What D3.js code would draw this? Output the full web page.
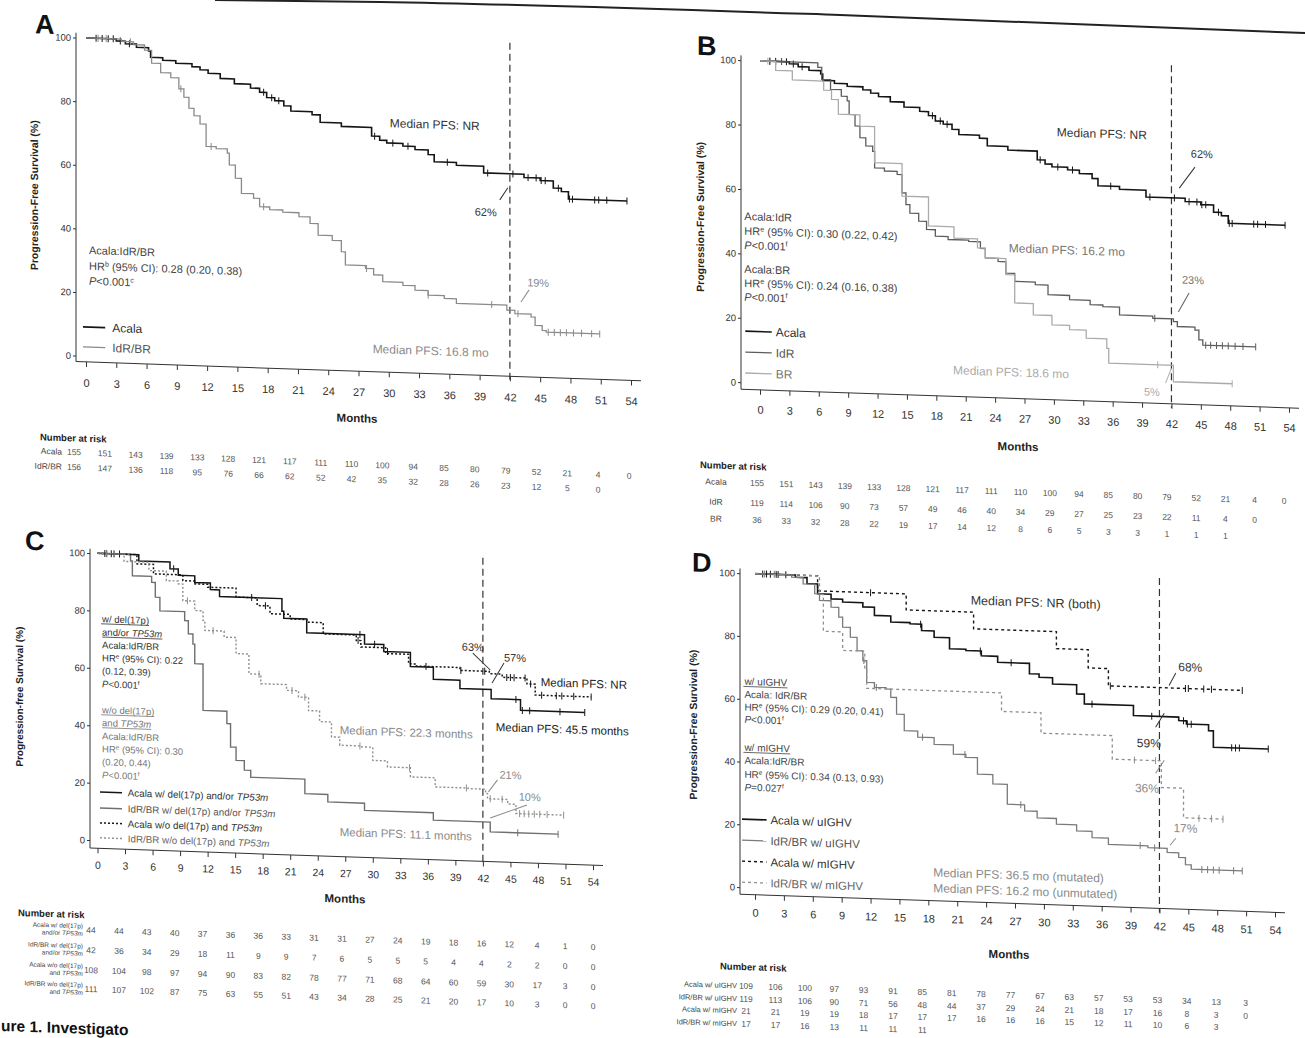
<!DOCTYPE html>
<html><head><meta charset="utf-8">
<style>
html,body{margin:0;padding:0;background:#fff;}
svg{display:block;}
text{font-family:"Liberation Sans",Arial,Helvetica,sans-serif;}
</style></head>
<body>
<svg id="fig" width="1305" height="1038" xmlns="http://www.w3.org/2000/svg"></svg>
<script src="https://cdn.jsdelivr.net/npm/d3@7/dist/d3.min.js"></script>
<script>
// ================= DATA =================
const monthTicks = [0,3,6,9,12,15,18,21,24,27,30,33,36,39,42,45,48,51,54];
const pctTicks = [0,20,40,60,80,100];
const landmarkMonth = 42;

// Kaplan-Meier step points [month, PFS %] (last point = end of follow-up)
const acalaAll = [[0,100],[3,99.4],[3.9,98.6],[5,97.6],[6.2,96.6],[6.4,94.6],[7.6,93.8],[8.9,93],[10.5,92.1],[11.3,91.2],[12.1,90.2],[13.3,88.7],[14.7,87.2],[16.3,86],[17.2,84.8],[17.9,83.2],[18.7,82.3],[19.6,80.8],[20.3,79.2],[22.4,78.3],[23.2,76],[25.3,74.9],[28.3,72.2],[29.1,71],[29.8,70.2],[31.4,69.4],[32.6,68.4],[33.9,67],[34.5,64.8],[36.7,63.9],[39.4,61.8],[43.4,60.8],[45,60],[46.3,57.8],[47.1,56.8],[47.8,54.5],[53.6,54.5]];
const acalaAllCens = [1,1.6,2.2,2.7,3.4,4.3,17.6,18.4,19.1,28.6,30.4,31.9,35.8,39.8,42.3,43.8,44.6,45.1,45.5,46.8,47.9,48.2,50.4,50.8,51.6,53.6];

const idrbrA = [[0,100],[3.5,99.3],[4.7,98.4],[5.8,96.8],[6.5,92.8],[7.4,89.9],[8.4,88.4],[9.2,85],[9.7,82.4],[10.2,79],[10.7,76.7],[11.3,74.2],[11.9,67.2],[12.9,66.6],[14,65.3],[14.2,61.6],[14.8,57.5],[15.4,52.8],[16.6,51.4],[17.2,48.8],[18.2,48],[19.5,47.3],[21.1,46.1],[22.2,44.1],[23,40.5],[24.4,39],[25.3,35.5],[25.7,31.4],[27.7,30.5],[28.5,28.6],[29.4,26.5],[31.4,25.6],[32.6,24.2],[33.9,22.8],[35.5,21.9],[36.7,20.5],[41.7,18.9],[42.5,17.9],[44.1,17],[44.5,14.4],[45.2,12.9],[45.6,12.4],[50.9,12.4]];
const idrbrACens = [1.2,2,4.4,9.4,12.4,17.6,27.8,33.9,40.2,42.8,45.8,46.4,47,47.6,48.3,49.1,50.1,50.9];

const idrB = [[0,100],[5.9,98.6],[6.3,94.9],[7.2,91.9],[8.3,89.9],[8.9,88.5],[9.1,84.3],[9.7,80.8],[10.2,77.2],[10.8,74.7],[11.5,73.1],[11.7,68],[12.7,67.1],[14,66.2],[14.5,60.5],[14.9,56.9],[15.3,54.3],[16.2,51.9],[17,49.4],[17.9,47.4],[19.2,46.5],[21.3,46.1],[22.5,44.1],[23,41.2],[24.3,40.2],[25.1,36.7],[26,34.2],[28.1,33.4],[29.4,30.4],[31.6,29.1],[33.7,27.8],[35,27.3],[36.7,24.9],[40.1,24.2],[42.2,23.4],[42.6,21.9],[44.4,21],[44.8,18],[45.2,16.4],[50.6,16.4]];
const idrBCens = [1,2.2,40.3,45.5,46,46.6,47.2,47.8,48.5,49.3,50.6];

const brB = [[0,100],[1.6,97.2],[3.3,94.4],[6.5,91.6],[7.3,88.8],[8,84.3],[10.2,80.8],[11.7,69.6],[14.5,59.5],[17.2,50.5],[19.8,47],[22.2,44.2],[23,41.2],[25.1,36.2],[26,27.5],[27.9,24],[29.8,21.1],[31.6,19.8],[33.3,17.3],[35.4,14.4],[35.6,9.8],[42.2,4.7],[48.2,4.7]];
const brBCens = [0.8,40.6,48.2];

const acalaDelC = [[0,100],[4.5,97.8],[7.9,95.5],[8.8,93.3],[10.6,91],[12.3,88.7],[13.3,86.4],[20.1,82],[20.3,79.6],[22.8,74.8],[29.1,71.6],[31.2,69.2],[34.1,64.3],[36.6,60.1],[39.5,57.2],[42.9,54],[46.1,50.3],[53.1,50.3]];
const acalaDelCCens = [1,1.8,8.3,28.6,30.2,31.6,45.6,46.3,47.1,50.4,53.1];
const idrbrDelC = [[0,100],[3.6,97.8],[3.8,92.6],[5.9,90.5],[6.3,85.4],[6.8,80.7],[9.5,77.6],[9.9,73],[10.4,69.5],[10.6,62.7],[11.5,46.5],[14.1,42.2],[14.5,34.1],[15.1,29.5],[16,26.2],[16.7,23.8],[22.6,18.7],[25.1,16.1],[29.1,13.6],[36.6,11],[42.8,7.6],[50.2,7.6]];
const idrbrDelCCens = [45.8,50.2];
const acalaNoC = [[0,100],[4.3,96.8],[6.1,93.5],[9.3,91.5],[10.6,90.5],[12,89.5],[15.1,86.4],[17.4,83.7],[18.8,81],[21,79.4],[22.8,78.5],[24.6,74.6],[28.2,72.7],[28.7,70.5],[31.4,68.5],[33.9,65.2],[34.6,64.5],[39.5,63.5],[42.7,62.7],[44.1,61.6],[46.8,59.6],[47.7,55.8],[53.8,55.8]];
const acalaNoCCens = [0.8,1.5,2.4,16.8,18.3,28.4,35.8,39.6,42.2,44.6,45,45.4,46.6,47.2,48.4,50,50.6,51.9,53.8];
const idrbrNoC = [[0,100],[2.9,97.5],[5.6,94.6],[7.5,91.3],[8.8,90.3],[9.3,84.5],[10.6,81.2],[11.5,77.9],[11.7,74.4],[13.8,72.3],[15.1,66.7],[16.5,59.8],[17.8,56.5],[20.6,54.5],[21.9,52.3],[23,47.7],[24.2,44],[25.5,38.8],[26.4,36],[28.7,35.7],[30,31.1],[31.6,29],[34.1,25.8],[36.8,22.6],[40.4,22.4],[42.3,20.9],[42.5,19.1],[44.7,17.5],[45.6,14.3],[50.8,14.3]];
const idrbrNoCCens = [1,9.8,12.6,17.6,21.2,22.6,28.6,34,40.2,42.8,44.1,46,46.5,47,47.6,48.2,49,50.8];

const acalaUD = [[0,100],[4.2,99.3],[5.4,97.4],[6.5,94.3],[7.9,92.8],[9.1,91.9],[11.2,90.6],[12.4,88],[14.1,86.1],[16.1,85.7],[17.3,83.7],[18.6,81.7],[20.2,78.2],[21.9,77.8],[23.5,76.3],[25.2,74.4],[28.5,71.1],[29.5,70.1],[30.9,68.1],[33.4,65.2],[34.2,62.1],[39.3,58.9],[44,57.8],[44.8,56.8],[47.1,54.9],[47.6,49.7],[53.3,49.7]];
const acalaUDCens = [0.8,1.6,2.4,3.2,17.2,23.4,26.6,35,41.2,44.5,44.9,45.3,49.5,49.9,50.3,53.3];
const idrbrUD = [[0,100],[3.8,99.3],[5,97.3],[6.2,94.3],[6.7,92.2],[7.9,90.2],[8.7,87.1],[9.1,83.9],[9.9,80.8],[10.6,76.6],[11.2,73.5],[11.6,66.6],[12.4,65.1],[13.6,64.7],[14.1,62.1],[14.7,56.8],[15.5,51.6],[16.9,49.7],[18.6,47.6],[20.6,44.7],[21.9,43.8],[23.1,38.6],[24.7,35.6],[26.2,29.3],[28,27.4],[29.3,25.3],[31.3,23.5],[33.4,21.6],[35,19.6],[36.7,17.6],[40.8,17],[42.8,15.7],[44,14.2],[44.7,12],[45.3,10.6],[50.6,10.6]];
const idrbrUDCens = [1,2,11.3,12.6,17.4,21.8,27.6,40,41.5,46.4,47,47.6,48.2,49.7,50.6];
const acalaMD = [[0,100],[6.5,95.2],[15.7,90.1],[22.7,84.8],[31.3,79.4],[34.6,73.6],[36.7,68.1],[50.6,68.1]];
const acalaMDCens = [1.2,2.2,12,36.9,44.7,45,46.6,47.4,50.6];
const idrbrMD = [[0,100],[6.7,94.1],[7.1,82.4],[9.1,76.5],[11.4,70.6],[11.6,64.7],[25.6,58.8],[29.7,52.3],[37.1,44.8],[42.2,36.3],[44.5,26.9],[48.6,26.9]];
const idrbrMDCens = [39.4,41.6,46.1,47.4,48.6];

// Number at risk
const riskA_acala = [155,151,143,139,133,128,121,117,111,110,100,94,85,80,79,52,21,4,0];
const riskA_idrbr = [156,147,136,118,95,76,66,62,52,42,35,32,28,26,23,12,5,0];
const riskB_acala = [155,151,143,139,133,128,121,117,111,110,100,94,85,80,79,52,21,4,0];
const riskB_idr = [119,114,106,90,73,57,49,46,40,34,29,27,25,23,22,11,4,0];
const riskB_br = [36,33,32,28,22,19,17,14,12,8,6,5,3,3,1,1,1];
const riskC_acalaDel = [44,44,43,40,37,36,36,33,31,31,27,24,19,18,16,12,4,1,0];
const riskC_idrbrDel = [42,36,34,29,18,11,9,9,7,6,5,5,5,4,4,2,2,0,0];
const riskC_acalaNo = [108,104,98,97,94,90,83,82,78,77,71,68,64,60,59,30,17,3,0];
const riskC_idrbrNo = [111,107,102,87,75,63,55,51,43,34,28,25,21,20,17,10,3,0,0];
const riskD_acalaU = [109,106,100,97,93,91,85,81,78,77,67,63,57,53,53,34,13,3];
const riskD_idrbrU = [119,113,106,90,71,56,48,44,37,29,24,21,18,17,16,8,3,0];
const riskD_acalaM = [21,21,19,19,18,17,17,17,16,16,16,15,12,11,10,6,3];
const riskD_idrbrM = [17,17,16,13,11,11,11];

// ================= RENDER =================
const K = 0.034; // skew of the scanned page
const BLACK = "#151515", GREY = "#8a8a8a", DGREY = "#5c5c5c", LGREY = "#ababab";
const svg = d3.select("#fig");
svg.append("rect").attr("width",1305).attr("height",1038).attr("fill","#fff");
svg.append("path").attr("d", d3.line().curve(d3.curveMonotoneX)([[215,0],[380,2],[840,15],[1305,33]]))
   .attr("fill","none").attr("stroke","#222").attr("stroke-width",2);
const root = svg.append("g").attr("transform",`matrix(1,${K},0,1,0,0)`);

function sAt(steps,t){let v=steps[0][1];for(const [ti,vi] of steps){if(ti<=t)v=vi;else break;}return v;}

function rich(g,x,y,parts,o){
  const t=g.append("text").attr("x",x).attr("y",y).attr("font-size",o.fs).attr("fill",o.c)
    .attr("text-anchor",o.a||"start").attr("dy","0.35em");
  if(o.bold) t.attr("font-weight","bold");
  if(typeof parts==="string") parts=[parts];
  let sup=false;
  parts.forEach(p=>{
    const [s,st=""]=Array.isArray(p)?p:[p];
    const sp=t.append("tspan").text(s);
    if(st.includes("i")) sp.attr("font-style","italic");
    if(st.includes("s")){sp.attr("font-size",o.fs*0.65).attr("dy",-o.fs*0.35);sup=true;}
    else if(sup){sp.attr("dy",o.fs*0.35);sup=false;}
  });
  if(o.u){
    const b=t.node().getBBox();
    const yy=y+o.fs*0.35+1.6;
    g.append("line").attr("x1",b.x).attr("x2",b.x+b.width).attr("y1",yy).attr("y2",yy)
      .attr("stroke",o.c).attr("stroke-width",0.8);
  }
  return t;
}

function drawPanel(P){
  const g=root.append("g");
  const x=d3.scaleLinear().domain([0,54]).range([P.x0,P.x54]);
  const y=d3.scaleLinear().domain([0,100]).range([P.y0,P.y100]);
  g.append("text").attr("x",P.letter[1]).attr("y",P.letter[2]).text(P.letter[0])
    .attr("font-size",27).attr("font-weight","bold").attr("fill","#111");
  // y axis
  const ya=g.append("g").attr("transform",`translate(${P.axX},0)`)
    .call(d3.axisLeft(y).tickValues(pctTicks).tickSize(3).tickSizeOuter(0).tickPadding(2));
  ya.select(".domain").attr("d",`M0,${y(101.5)}V${P.axY}`);
  ya.selectAll("line,path").attr("stroke","#333");
  ya.selectAll("text").attr("font-size",P.yfs).attr("fill","#333").attr("font-family",null);
  // x axis
  const xa=g.append("g").attr("transform",`translate(0,${P.axY})`)
    .call(d3.axisBottom(x).tickValues(monthTicks).tickSize(5).tickSizeOuter(0).tickPadding(P.xPad));
  xa.select(".domain").attr("d",`M${P.axX},0H${x(54)+10}`);
  xa.selectAll("line,path").attr("stroke","#333");
  xa.selectAll("text").attr("font-size",P.tfs).attr("fill","#333").attr("font-family",null);
  // axis titles
  g.append("text").attr("x",P.months[0]).attr("y",P.months[1]).attr("text-anchor","middle")
    .attr("dy","0.35em").attr("font-size",11.5).attr("font-weight","bold").attr("fill","#222").text("Months");
  g.append("text").attr("transform",`translate(${P.ytitle[1]},${P.ytitle[2]}) rotate(-90)`)
    .attr("text-anchor","middle").attr("dy","0.35em").attr("font-size",P.ytitle[3])
    .attr("font-weight","bold").attr("fill","#222").text(P.ytitle[0]);
  // landmark line
  g.append("line").attr("x1",x(landmarkMonth)).attr("x2",x(landmarkMonth))
    .attr("y1",y(103)).attr("y2",P.axY+4).attr("stroke","#333").attr("stroke-width",1.2)
    .attr("stroke-dasharray","7,4");
  // curves
  const line=d3.line().x(d=>x(d[0])).y(d=>y(d[1])).curve(d3.curveStepAfter);
  P.series.forEach(s=>{
    g.append("path").attr("d",line(s.steps)).attr("fill","none").attr("stroke",s.c)
      .attr("stroke-width",s.w||1.4).attr("stroke-dasharray",s.dash||null);
    g.append("g").selectAll("line").data(s.cens).join("line")
      .attr("x1",d=>x(d)).attr("x2",d=>x(d))
      .attr("y1",d=>y(sAt(s.steps,d))-3.5).attr("y2",d=>y(sAt(s.steps,d))+3.5)
      .attr("stroke",s.c).attr("stroke-width",1);
  });
  // pointers and labels
  (P.pointers||[]).forEach(p=>{
    g.append("line").attr("x1",x(p[0])).attr("y1",y(p[1])).attr("x2",x(p[2])).attr("y2",y(p[3]))
      .attr("stroke",p[4]).attr("stroke-width",1);
  });
  (P.notes||[]).forEach(n=>rich(g,x(n.m),y(n.v),n.t,{fs:n.fs,c:n.c,a:n.a,u:n.u,bold:n.b}));
  // legend
  P.legend.rows.forEach(r=>{
    const yy=y(r.v);
    g.append("line").attr("x1",x(P.legend.l0)).attr("x2",x(P.legend.l1)).attr("y1",yy).attr("y2",yy)
      .attr("stroke",r.c).attr("stroke-width",r.w||1.4).attr("stroke-dasharray",r.dash||null);
    rich(g,x(P.legend.tx),yy,r.t,{fs:P.legend.fs,c:r.tc||r.c});
  });
}

function drawRisk(R){
  const g=root.append("g");
  const cx=d3.scaleLinear().domain([0,54]).range(R.cols);
  g.append("text").attr("x",R.title[0]).attr("y",R.title[1]).attr("dy","0.35em")
    .attr("font-size",9.5).attr("font-weight","bold").attr("fill","#222").text("Number at risk");
  R.rows.forEach(r=>{
    const lbl=Array.isArray(r.label)?r.label:[r.label];
    lbl.forEach((L,j)=>{
      rich(g,R.lx,r.y+(j-(lbl.length-1)/2)*R.lh,L,{fs:R.lfs,c:"#444",a:R.la||"end"});
    });
    g.append("g").selectAll("text").data(r.values).join("text")
      .attr("x",(d,i)=>cx(monthTicks[i]))
      .attr("y",(d,i)=>r.y+R.extra*(cx(monthTicks[i])-R.cols[0]))
      .attr("dy","0.35em").attr("text-anchor","middle").attr("font-size",R.vfs)
      .attr("fill","#555").text(d=>d);
  });
}

// ---------- Panel A ----------
drawPanel({
  letter:["A",35,32], x0:86, x54:631, y0:353, y100:35, axX:76, axY:359, yfs:9.5, tfs:11, xPad:12,
  months:[357,406], ytitle:["Progression-Free Survival (%)",34,194,10.5],
  series:[
    {steps:acalaAll,cens:acalaAllCens,c:BLACK,w:1.6},
    {steps:idrbrA,cens:idrbrACens,c:GREY,w:1.3}
  ],
  pointers:[[41.8,57.4,41.0,53.5,"#333"],[43.9,25.5,43.1,21.6,GREY]],
  notes:[
    {m:30.1,v:76.5,t:"Median PFS: NR",fs:12,c:"#333"},
    {m:39.6,v:49.5,t:"62%",fs:11,c:"#333",a:"middle"},
    {m:44.8,v:27.8,t:"19%",fs:11,c:GREY,a:"middle"},
    {m:28.4,v:5.3,t:"Median PFS: 16.8 mo",fs:12,c:GREY},
    {m:0.3,v:33.3,t:"Acala:IdR/BR",fs:11,c:"#444"},
    {m:0.3,v:28.3,t:[["HR"],["b","s"],[" (95% CI): 0.28 (0.20, 0.38)"]],fs:11,c:"#444"},
    {m:0.3,v:23.6,t:[["P","i"],["<0.001"],["c","s"]],fs:11,c:"#444"}
  ],
  legend:{l0:-0.3,l1:1.9,tx:2.6,fs:12,rows:[
    {v:9.1,t:"Acala",c:BLACK,w:1.6,tc:"#333"},
    {v:2.8,t:"IdR/BR",c:GREY,w:1.3,tc:"#555"}]}
});

// ---------- Panel B ----------
drawPanel({
  letter:["B",697,31], x0:760, x54:1289, y0:357, y100:35, axX:741, axY:364, yfs:9.5, tfs:11, xPad:11,
  months:[1018,412], ytitle:["Progression-Free Survival (%)",700,193,10.5],
  series:[
    {steps:acalaAll,cens:acalaAllCens,c:BLACK,w:1.6},
    {steps:idrB,cens:idrBCens,c:DGREY,w:1.3},
    {steps:brB,cens:brBCens,c:LGREY,w:1.3}
  ],
  pointers:[[44.4,71.6,42.8,64.9,"#333"],[43.8,32.4,42.7,26.4,DGREY],[41.4,4.2,42.0,8.9,LGREY]],
  notes:[
    {m:30.3,v:81,t:"Median PFS: NR",fs:12,c:"#333"},
    {m:45.1,v:75.7,t:"62%",fs:11,c:"#333",a:"middle"},
    {m:25.4,v:44.5,t:"Median PFS: 16.2 mo",fs:12,c:"#777"},
    {m:44.2,v:36.5,t:"23%",fs:11,c:"#777",a:"middle"},
    {m:19.7,v:6,t:"Median PFS: 18.6 mo",fs:12,c:LGREY},
    {m:40,v:1.3,t:"5%",fs:11,c:LGREY,a:"middle"},
    {m:-1.6,v:51.6,t:"Acala:IdR",fs:11,c:"#444"},
    {m:-1.6,v:47,t:[["HR"],["e","s"],[" (95% CI): 0.30 (0.22, 0.42)"]],fs:11,c:"#444"},
    {m:-1.6,v:42.6,t:[["P","i"],["<0.001"],["f","s"]],fs:11,c:"#444"},
    {m:-1.6,v:35.2,t:"Acala:BR",fs:11,c:"#444"},
    {m:-1.6,v:30.8,t:[["HR"],["e","s"],[" (95% CI): 0.24 (0.16, 0.38)"]],fs:11,c:"#444"},
    {m:-1.6,v:26.5,t:[["P","i"],["<0.001"],["f","s"]],fs:11,c:"#444"}
  ],
  legend:{l0:-1.5,l1:1.2,tx:1.6,fs:12,rows:[
    {v:15.9,t:"Acala",c:BLACK,w:1.6,tc:"#333"},
    {v:9.4,t:"IdR",c:DGREY,w:1.3,tc:"#555"},
    {v:2.9,t:"BR",c:LGREY,w:1.3,tc:"#777"}]}
});

// ---------- Panel C ----------
drawPanel({
  letter:["C",25,549], x0:97.5, x54:593, y0:837, y100:550, axX:90, axY:845, yfs:9.5, tfs:10.5, xPad:8,
  months:[345,887], ytitle:["Progression-free Survival (%)",19,696,10],
  series:[
    {steps:acalaDelC,cens:acalaDelCCens,c:BLACK,w:1.5},
    {steps:idrbrDelC,cens:idrbrDelCCens,c:"#6f6f6f",w:1.4},
    {steps:acalaNoC,cens:acalaNoCCens,c:BLACK,w:1.5,dash:"2,2"},
    {steps:idrbrNoC,cens:idrbrNoCCens,c:"#8f8f8f",w:1.4,dash:"2,2"}
  ],
  pointers:[[40.9,69.7,42.8,64,"#333"],[44.3,66.6,43,59.5,"#333"],[43.6,25.8,42.6,21.5,GREY],[46.8,17.4,42.8,12.4,GREY]],
  notes:[
    {m:40.9,v:71.8,t:"63%",fs:11,c:"#333",a:"middle"},
    {m:45.5,v:68.5,t:"57%",fs:11,c:"#333",a:"middle"},
    {m:48.3,v:60.4,t:"Median PFS: NR",fs:11.5,c:"#222"},
    {m:43.4,v:44.2,t:"Median PFS: 45.5 months",fs:11.5,c:"#222"},
    {m:26.4,v:41.3,t:"Median PFS: 22.3 months",fs:11.5,c:GREY},
    {m:45,v:27.6,t:"21%",fs:11,c:GREY,a:"middle"},
    {m:47.1,v:20.2,t:"10%",fs:11,c:GREY,a:"middle"},
    {m:26.4,v:5.8,t:"Median PFS: 11.1 months",fs:11.5,c:GREY},
    {m:0.5,v:77.2,t:"w/ del(17p)",fs:9.5,c:"#333",u:true},
    {m:0.5,v:72.6,t:[["and/or "],["TP53m","i"]],fs:9.5,c:"#333",u:true},
    {m:0.5,v:68.1,t:"Acala:IdR/BR",fs:9.5,c:"#333"},
    {m:0.5,v:63.6,t:[["HR"],["e","s"],[" (95% CI): 0.22"]],fs:9.5,c:"#333"},
    {m:0.5,v:59.1,t:"(0.12, 0.39)",fs:9.5,c:"#333"},
    {m:0.5,v:54.5,t:[["P","i"],["<0.001"],["f","s"]],fs:9.5,c:"#333"},
    {m:0.5,v:45.5,t:"w/o del(17p)",fs:9.5,c:"#777",u:true},
    {m:0.5,v:41,t:[["and "],["TP53m","i"]],fs:9.5,c:"#777",u:true},
    {m:0.5,v:36.4,t:"Acala:IdR/BR",fs:9.5,c:"#777"},
    {m:0.5,v:31.9,t:[["HR"],["e","s"],[" (95% CI): 0.30"]],fs:9.5,c:"#777"},
    {m:0.5,v:27.4,t:"(0.20, 0.44)",fs:9.5,c:"#777"},
    {m:0.5,v:22.8,t:[["P","i"],["<0.001"],["f","s"]],fs:9.5,c:"#777"}
  ],
  legend:{l0:0.27,l1:2.67,tx:3.3,fs:9.8,rows:[
    {v:16.9,t:[["Acala w/ del(17p) and/or "],["TP53m","i"]],c:BLACK,w:1.5,tc:"#333"},
    {v:11.3,t:[["IdR/BR w/ del(17p) and/or "],["TP53m","i"]],c:"#6f6f6f",w:1.4,tc:"#555"},
    {v:6.1,t:[["Acala w/o del(17p) and "],["TP53m","i"]],c:BLACK,w:1.5,dash:"2,2",tc:"#333"},
    {v:0.9,t:[["IdR/BR w/o del(17p) and "],["TP53m","i"]],c:"#8f8f8f",w:1.4,dash:"2,2",tc:"#666"}]}
});

// ---------- Panel D ----------
drawPanel({
  letter:["D",692,548], x0:755, x54:1275, y0:862, y100:548, axX:740, axY:869, yfs:9.5, tfs:11, xPad:9,
  months:[1009,920], ytitle:["Progression-Free Survival (%)",693,701,10.5],
  series:[
    {steps:acalaUD,cens:acalaUDCens,c:BLACK,w:1.6},
    {steps:idrbrUD,cens:idrbrUDCens,c:"#7a7a7a",w:1.3},
    {steps:acalaMD,cens:acalaMDCens,c:BLACK,w:1.4,dash:"3,3"},
    {steps:idrbrMD,cens:idrbrMDCens,c:"#8f8f8f",w:1.3,dash:"3,3"}
  ],
  pointers:[[43.7,72.9,43,68.9,"#333"],[42.5,60,41.6,55.4,"#333"],[42.5,45,41.6,40.8,GREY],[43.7,20.3,43.1,18,GREY]],
  notes:[
    {m:22.4,v:93.9,t:"Median PFS: NR (both)",fs:12.5,c:"#333"},
    {m:45.2,v:74.9,t:"68%",fs:12,c:"#333",a:"middle"},
    {m:40.9,v:50.3,t:"59%",fs:12,c:"#333",a:"middle"},
    {m:40.7,v:35.9,t:"36%",fs:12,c:GREY,a:"middle"},
    {m:44.7,v:23.6,t:"17%",fs:12,c:GREY,a:"middle"},
    {m:18.5,v:6.8,t:"Median PFS: 36.5 mo (mutated)",fs:12,c:GREY},
    {m:18.5,v:1.8,t:"Median PFS: 16.2 mo (unmutated)",fs:12,c:GREY},
    {m:-1.1,v:65.6,t:"w/ uIGHV",fs:10,c:"#444",u:true},
    {m:-1.1,v:61.5,t:"Acala: IdR/BR",fs:10,c:"#444"},
    {m:-1.1,v:57.4,t:[["HR"],["e","s"],[" (95% CI): 0.29 (0.20, 0.41)"]],fs:10,c:"#444"},
    {m:-1.1,v:53.5,t:[["P","i"],["<0.001"],["f","s"]],fs:10,c:"#444"},
    {m:-1.1,v:44.6,t:"w/ mIGHV",fs:10,c:"#444",u:true},
    {m:-1.1,v:40.5,t:"Acala:IdR/BR",fs:10,c:"#444"},
    {m:-1.1,v:36,t:[["HR"],["e","s"],[" (95% CI): 0.34 (0.13, 0.93)"]],fs:10,c:"#444"},
    {m:-1.1,v:31.9,t:[["P","i"],["=0.027"],["f","s"]],fs:10,c:"#444"}
  ],
  legend:{l0:-1.35,l1:1.2,tx:1.6,fs:11.5,rows:[
    {v:21.7,t:"Acala w/ uIGHV",c:BLACK,w:1.6,tc:"#333"},
    {v:15,t:"IdR/BR w/ uIGHV",c:"#7a7a7a",w:1.3,tc:"#555"},
    {v:8.3,t:"Acala w/ mIGHV",c:BLACK,w:1.4,dash:"3,3",tc:"#333"},
    {v:1.6,t:"IdR/BR w/ mIGHV",c:"#8f8f8f",w:1.3,dash:"3,3",tc:"#666"}]}
});

// ---------- Risk tables ----------
drawRisk({title:[40,435.6], cols:[74,629], extra:0.009, lx:62, lfs:8.5, lh:8, vfs:8.5, rows:[
  {label:"Acala",y:449.5,values:riskA_acala},
  {label:"IdR/BR",y:464.5,values:riskA_idrbr}]});
drawRisk({title:[700,441], cols:[757,1284], extra:0, lx:716, la:"middle", lfs:8.5, lh:8, vfs:8.5, rows:[
  {label:"Acala",y:457.3,values:riskB_acala},
  {label:"IdR",y:477.3,values:riskB_idr},
  {label:"BR",y:494.3,values:riskB_br}]});
drawRisk({title:[18,912], cols:[91,593], extra:0, lx:83, lfs:6.5, lh:7.5, vfs:8.5, rows:[
  {label:[["Acala w/ del(17p)"],[["and/or "],["TP53m","i"]]],y:927,values:riskC_acalaDel},
  {label:[["IdR/BR w/ del(17p)"],[["and/or "],["TP53m","i"]]],y:947,values:riskC_idrbrDel},
  {label:[["Acala w/o del(17p)"],[["and "],["TP53m","i"]]],y:967,values:riskC_acalaNo},
  {label:[["IdR/BR w/o del(17p)"],[["and "],["TP53m","i"]]],y:986,values:riskC_idrbrNo}]});
drawRisk({title:[720,941.5], cols:[746,1275], extra:0, lx:737, lfs:7.5, lh:8, vfs:8.5, rows:[
  {label:"Acala w/ uIGHV",y:960.6,values:riskD_acalaU},
  {label:"IdR/BR w/ uIGHV",y:973.6,values:riskD_idrbrU},
  {label:"Acala w/ mIGHV",y:985.6,values:riskD_acalaM},
  {label:"IdR/BR w/ mIGHV",y:998.6,values:riskD_idrbrM}]});

// caption fragment visible at the page bottom
root.append("text").attr("x",1).attr("y",1031).attr("font-size",15.5).attr("font-weight","bold")
  .attr("fill","#111").text("ure 1. Investigato");
</script>
</body></html>
